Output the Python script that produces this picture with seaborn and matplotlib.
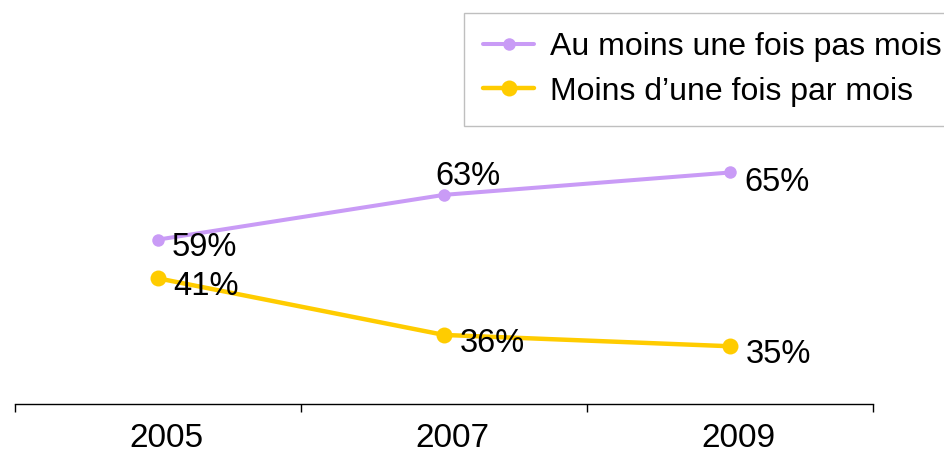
import pandas as pd
import matplotlib
matplotlib.use('Agg')
import matplotlib.pyplot as plt
import matplotlib.transforms as mtransforms
import seaborn as sns

years = ['2005', '2007', '2009']
au_moins = [59, 63, 65]
moins_de = [41, 36, 35]
label_au_moins = 'Au moins une fois pas mois'
label_moins_de = 'Moins d\u2019une fois par mois'

purple = '#C99BF6'
yellow = '#FFCC00'

sns.set_style('white')
plt.rcParams['font.family'] = ['Liberation Sans', 'DejaVu Sans']
plt.rcParams['text.color'] = 'black'
plt.rcParams['xtick.color'] = 'black'

df = pd.DataFrame({'Année': years, 'au_moins': au_moins, 'moins_de': moins_de})

fig = plt.figure(figsize=(9.45, 4.55), dpi=100)
ax = fig.add_axes([15 / 945, 51 / 455, 858 / 945, 274 / 455])
ax2 = ax.twinx()

sns.lineplot(data=df, x='Année', y='au_moins', ax=ax, color=purple, lw=2.9,
             marker='o', markersize=9, mec=purple, mew=0, legend=False, clip_on=False)
sns.lineplot(data=df, x='Année', y='moins_de', ax=ax2, color=yellow, lw=3.2,
             marker='o', markersize=11.5, mec=yellow, mew=0, legend=False, clip_on=False)

ax.set_ylim(44.3, 68.8)
ax2.set_ylim(29.9, 54.1)
ax.set_xlim(-0.5, 2.5)

# data labels
fs = 23.5
offsets_top = [(10, -6, 'left', 'center'), (-6, 2, 'left', 'bottom'), (10, -7, 'left', 'center')]
for i, v in enumerate(au_moins):
    dx, dy, ha, va = offsets_top[i]
    ax.annotate(f'{v}%', (i, v), xytext=(dx, dy), textcoords='offset points',
                ha=ha, va=va, fontsize=fs)
for i, v in enumerate(moins_de):
    ax2.annotate(f'{v}%', (i, v), xytext=(11, -6), textcoords='offset points',
                 ha='left', va='center', fontsize=fs)

for a in (ax, ax2):
    for s in ['left', 'right', 'top']:
        a.spines[s].set_visible(False)
    a.set_yticks([])
    a.set_ylabel('')
ax2.spines['bottom'].set_visible(False)
ax.spines['bottom'].set_color('black')
ax.spines['bottom'].set_linewidth(1)

ax.set_xticks([-0.5, 0.5, 1.5, 2.5])
ax.set_xticklabels([])
ax.tick_params(axis='x', which='major', direction='out', length=6, width=1,
               color='black', bottom=True)
ax.set_xticks([0, 1, 2], minor=True)
ax.set_xticklabels(years, minor=True, fontsize=24)
ax.tick_params(axis='x', which='minor', length=0, pad=14)
shift = mtransforms.ScaledTranslation(8 / 100, 0, fig.dpi_scale_trans)
for lab in ax.get_xticklabels(minor=True):
    lab.set_transform(lab.get_transform() + shift)
ax.set_xlabel('')

handles = [ax.get_lines()[0], ax2.get_lines()[0]]
leg = fig.legend(handles, [label_au_moins, label_moins_de], loc='upper left',
                 bbox_to_anchor=(464 / 945, 1 - 13 / 455), bbox_transform=fig.transFigure,
                 fontsize=23, frameon=True, fancybox=False, handlelength=1.6,
                 handletextpad=0.5, borderpad=0.6, labelspacing=0.45, borderaxespad=0)
leg.get_frame().set_edgecolor('#b0b0b0')
leg.get_frame().set_linewidth(1)

fig.savefig('out.png', dpi=100)
